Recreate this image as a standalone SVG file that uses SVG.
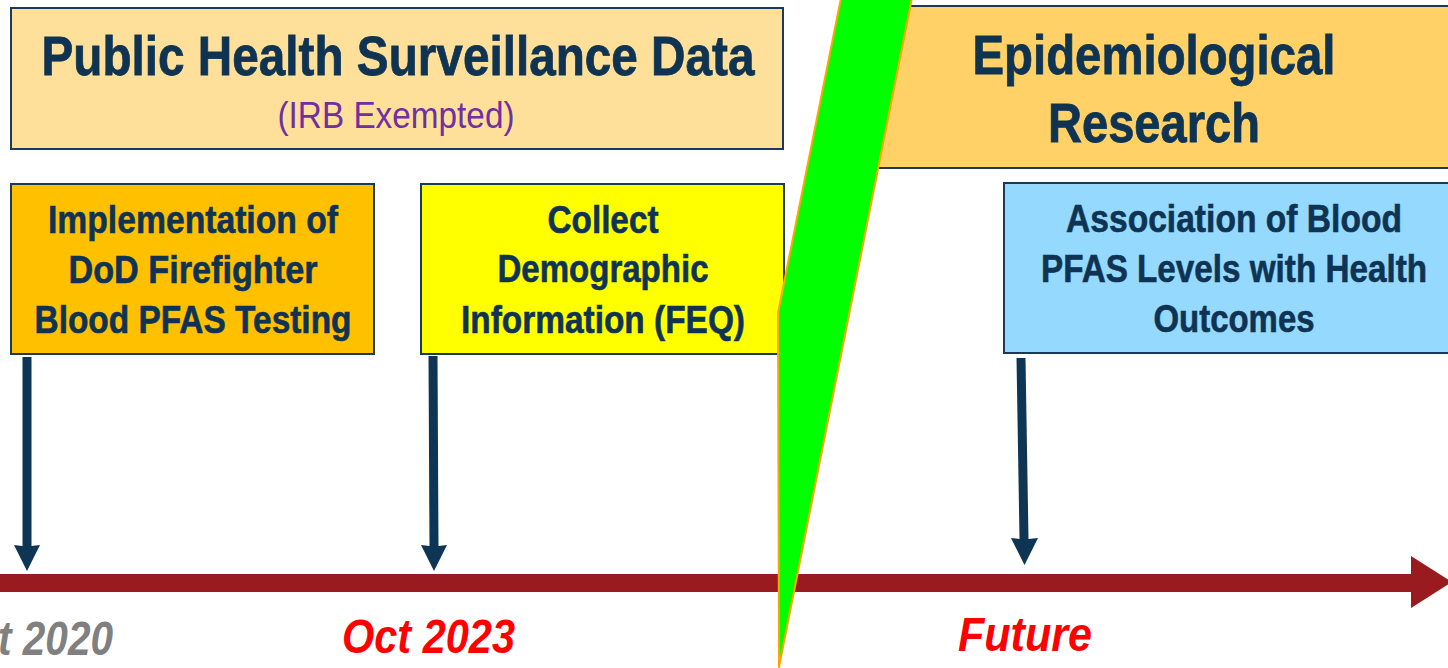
<svg xmlns="http://www.w3.org/2000/svg" width="1448" height="668" viewBox="0 0 1448 668">
  <style>
    .box { stroke: #1B3A57; stroke-width: 2; }
    .head { font-family: "Liberation Sans", Arial, sans-serif; font-weight: bold; font-size: 56px; fill: #0F3352; stroke: #0F3352; stroke-width: 0.8; text-anchor: middle; }
    .lbl { font-family: "Liberation Sans", Arial, sans-serif; font-weight: bold; font-size: 38px; fill: #0F3352; stroke: #0F3352; stroke-width: 0.6; text-anchor: middle; }
    .sub { font-family: "Liberation Sans", Arial, sans-serif; font-size: 36px; fill: #7030A0; text-anchor: middle; }
    .date { font-family: "Liberation Sans", Arial, sans-serif; font-weight: bold; font-style: italic; font-size: 48px; }
    .conn { fill: #0E3553; }
  </style>
  <rect width="1448" height="668" fill="#FFFFFF"/>

  <!-- phase banners -->
  <g id="surveillance">
    <rect class="box" x="11" y="8" width="772" height="141" fill="#FFE09A"/>
    <text class="head" x="398" y="75" textLength="713" lengthAdjust="spacingAndGlyphs">Public Health Surveillance Data</text>
    <text class="sub" x="396" y="128" textLength="237" lengthAdjust="spacingAndGlyphs">(IRB Exempted)</text>
  </g>
  <g id="research">
    <rect class="box" x="860" y="6" width="600" height="162" fill="#FFD166"/>
    <text class="head" x="1154" y="74" textLength="363" lengthAdjust="spacingAndGlyphs">Epidemiological</text>
    <text class="head" x="1154" y="142" textLength="212" lengthAdjust="spacingAndGlyphs">Research</text>
  </g>

  <!-- milestone boxes -->
  <g id="testing">
    <rect class="box" x="11" y="184" width="363" height="170" fill="#FFC000"/>
    <text class="lbl" x="193" y="233" textLength="290" lengthAdjust="spacingAndGlyphs">Implementation of</text>
    <text class="lbl" x="193" y="283" textLength="249" lengthAdjust="spacingAndGlyphs">DoD Firefighter</text>
    <text class="lbl" x="193" y="333" textLength="317" lengthAdjust="spacingAndGlyphs">Blood PFAS Testing</text>
  </g>
  <g id="demographics">
    <rect class="box" x="421" y="184" width="363" height="170" fill="#FFFF00"/>
    <text class="lbl" x="603" y="233" textLength="111" lengthAdjust="spacingAndGlyphs">Collect</text>
    <text class="lbl" x="603" y="282" textLength="211" lengthAdjust="spacingAndGlyphs">Demographic</text>
    <text class="lbl" x="603" y="333" textLength="284" lengthAdjust="spacingAndGlyphs">Information (FEQ)</text>
  </g>
  <g id="association">
    <rect class="box" x="1004" y="183" width="460" height="170" fill="#95D9FF"/>
    <text class="lbl" x="1234" y="232" textLength="336" lengthAdjust="spacingAndGlyphs">Association of Blood</text>
    <text class="lbl" x="1234" y="282" textLength="386" lengthAdjust="spacingAndGlyphs">PFAS Levels with Health</text>
    <text class="lbl" x="1234" y="332" textLength="161" lengthAdjust="spacingAndGlyphs">Outcomes</text>
  </g>

  <!-- timeline and pointers -->
  <g id="connectors">
    <g id="timeline" fill="#9A1B1F">
      <rect x="0" y="574" width="1413" height="18"/>
      <polygon points="1411,556 1452,582 1411,608"/>
    </g>
    <g class="conn">
      <polygon points="22.5,357 31.5,357 31.5,546 40,545 27,571 14,545 22.5,546"/>
      <polygon points="428.5,356 437.5,356 438.5,546 447,545 434,571 421,545 429.5,546"/>
      <polygon points="1016.5,358 1025.5,358 1028.5,539 1038,538 1024.5,565 1011,538 1019.5,539"/>
    </g>
  </g>

  <!-- phase break -->
  <g id="phase-break">
    <polygon points="841,-2 912,-2 779,667 778,313" fill="#00FF00" stroke="#FFA500" stroke-width="2" stroke-linejoin="round"/>
  </g>

  <!-- dates -->
  <g id="dates">
    <text class="date" x="-2" y="655" fill="#808080" textLength="115" lengthAdjust="spacingAndGlyphs">t 2020</text>
    <text class="date" x="342" y="653" fill="#FF0000" textLength="173" lengthAdjust="spacingAndGlyphs">Oct 2023</text>
    <text class="date" x="958" y="651" fill="#FF0000" textLength="134" lengthAdjust="spacingAndGlyphs">Future</text>
  </g>
</svg>
